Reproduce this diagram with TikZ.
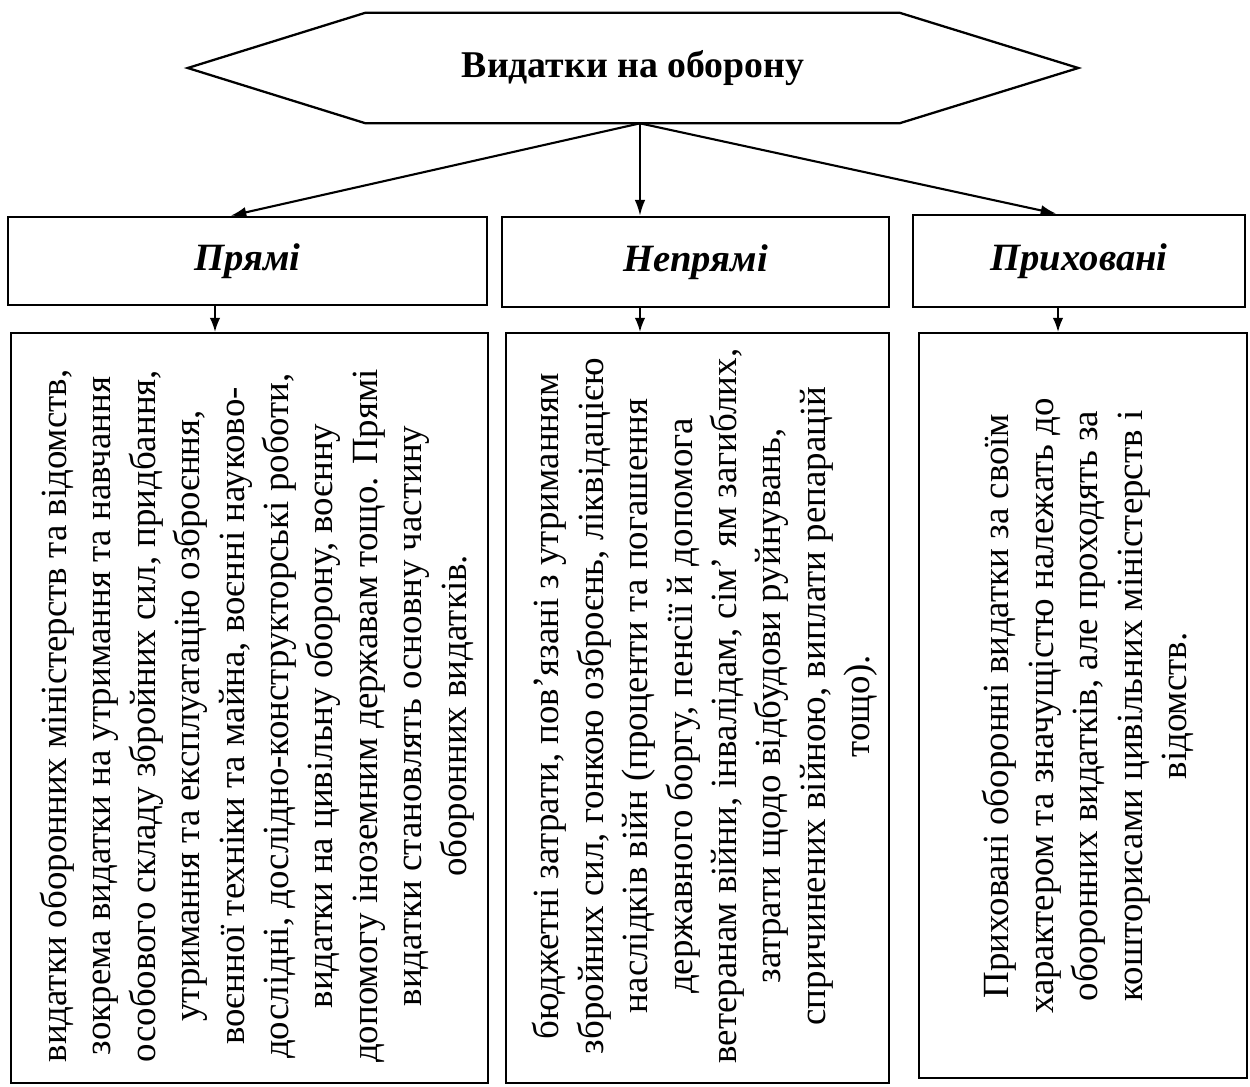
\documentclass[tikz,border=0pt]{standalone}
\usepackage{fontspec}
\setmainfont{Liberation Serif}
\usetikzlibrary{arrows.meta}

\tikzstyle{title} = [draw=none, minimum width=17.8cm, minimum height=2.2cm,
font=\fontsize{21.5}{26}\selectfont\bfseries]
\tikzstyle{hexa} = [line width=1.3pt]
\tikzstyle{kind} = [rectangle, draw, line width=1.4pt, align=center,
font=\fontsize{22}{26}\selectfont\bfseries\itshape, inner sep=0pt]
\tikzstyle{panel} = [rectangle, draw, line width=1.4pt, inner sep=0pt]
\tikzstyle{body} = [rotate=90, align=center, inner sep=0pt,
font=\fontsize{21}{25.3}\selectfont]
\tikzstyle{arrow} = [line width=1.2pt,-{Latex[length=9pt,width=6pt]},draw]
\tikzstyle{short} = [line width=0.9pt,-{Latex[length=8pt,width=6pt]},draw]

\begin{document}
\begin{tikzpicture}[x=0.02cm,y=-0.02cm]
\useasboundingbox (0,0) rectangle (1250,1086);

% Top
\node[title](title) at (633,68) {Видатки на оборону};
\draw[hexa] (title.west) -- ([xshift=3.56cm]title.north west)
  -- ([xshift=-3.58cm]title.north east) -- (title.east)
  -- ([xshift=-3.58cm]title.south east) -- ([xshift=3.56cm]title.south west) -- cycle;
\coordinate (root) at ([xshift=0.14cm]title.south);

% Kinds of spending
\node[kind, minimum width=9.58cm, minimum height=1.76cm](direct) at (247.5,261) {Прямі};
\node[kind, minimum width=7.74cm, minimum height=1.8cm](indirect) at (695.5,262) {Непрямі};
\node[kind, minimum width=6.64cm, minimum height=1.84cm](hidden) at (1079,261) {Приховані};

% Panels with the descriptions
\node[panel, minimum width=9.54cm, minimum height=15cm](directText) at (249.5,708) {};
\node[panel, minimum width=7.66cm, minimum height=15cm](indirectText) at (697.5,708) {};
\node[panel, minimum width=6.56cm, minimum height=14.9cm](hiddenText) at (1083,705.5) {};

\node[body](directBody) at (257,716) {%
видатки оборонних міністерств та відомств,\\
зокрема видатки на утримання та навчання\\
особового складу збройних сил, придбання,\\
утримання та експлуатацію озброєння,\\
воєнної техніки та майна, воєнні науково-\\
дослідні, дослідно-конструкторські роботи,\\
видатки на цивільну оборону, воєнну\\
допомогу іноземним державам тощо. Прямі\\
видатки становлять основну частину\\
оборонних видатків.};

\node[body](indirectBody) at (705,706) {%
бюджетні затрати, пов'язані з утриманням\\
збройних сил, гонкою озброєнь, ліквідацією\\
наслідків війн (проценти та погашення\\
державного боргу, пенсії й допомога\\
ветеранам війни, інвалідам, сім' ям загиблих,\\
затрати щодо відбудови руйнувань,\\
спричинених війною, виплати репарацій\\
тощо).};

\node[body](hiddenBody) at (1088,706) {%
Приховані оборонні видатки за своїм\\
характером та значущістю належать до\\
оборонних видатків, але проходять за\\
кошторисами цивільних міністерств і\\
відомств.};

% Arrows from the top
\path[arrow] (root) -- ([xshift=-0.34cm]direct.north);
\path[arrow] (root) -- (root |- indirect.north);
\path[arrow] (root) -- ([xshift=-0.45cm]hidden.north);

% Arrows to the panels
\coordinate (d1) at ([xshift=-0.65cm]direct.south);
\coordinate (h1) at ([xshift=-0.42cm]hidden.south);
\path[short] (d1) -- (d1 |- directText.north);
\path[short] (root |- indirect.south) -- (root |- indirectText.north);
\path[short] (h1) -- (h1 |- hiddenText.north);
\end{tikzpicture}
\end{document}
